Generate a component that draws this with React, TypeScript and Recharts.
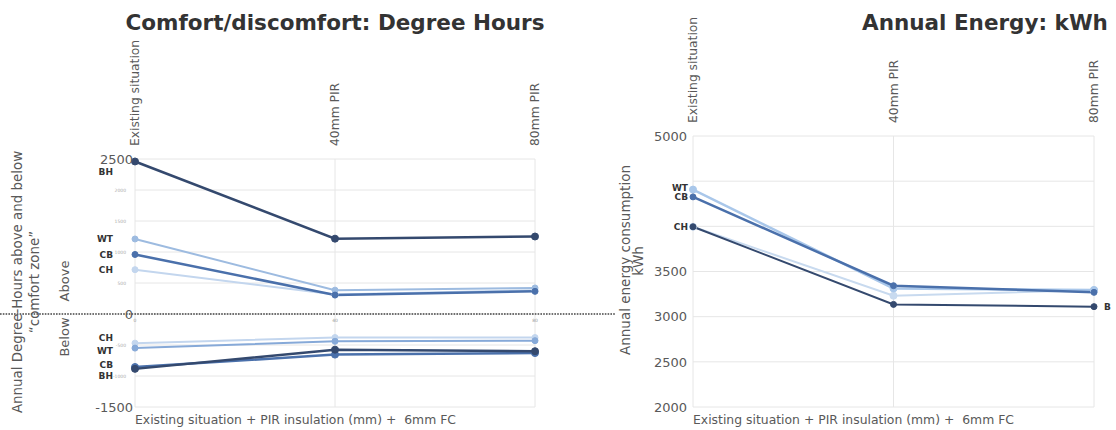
import React from 'react';
import {
  LineChart,
  Line,
  XAxis,
  YAxis,
  CartesianGrid,
  ReferenceLine,
  ReferenceDot,
  LabelList,
} from 'recharts';

// ---------- data ----------
const categories = ['Existing situation', '40mm PIR', '80mm PIR'];
const pirLabels = ['0', '40', '80'];

// Degree hours above comfort zone
const bhAbove = [2460, 1215, 1250];
const wtAbove = [1210, 385, 420];
const cbAbove = [960, 305, 365];
const chAbove = [715, 315, 385];
// Degree hours below comfort zone
const chBelow = [-470, -380, -380];
const wtBelow = [-550, -440, -430];
const cbBelow = [-855, -655, -630];
const bhBelow = [-885, -575, -600];

const comfortTicks = [-1500, -1000, -500, 0, 500, 1000, 1500, 2000, 2500];
const comfortMajorTicks = [2500, 0, -1500];

// Annual energy kWh
const bhEnergy = [3995, 3136, 3111];
const cbEnergy = [4326, 3343, 3269];
const wtEnergy = [4407, 3313, 3295];
const chEnergy = [3995, 3232, 3295];

const energyTicks = [2000, 2500, 3000, 3500, 4000, 4500, 5000];
const energyLabelledTicks = [2000, 2500, 3000, 3500, 5000];

const comfortData = categories.map((c, i) => ({
  category: c,
  bhAbove: bhAbove[i],
  wtAbove: wtAbove[i],
  cbAbove: cbAbove[i],
  chAbove: chAbove[i],
  chBelow: chBelow[i],
  wtBelow: wtBelow[i],
  cbBelow: cbBelow[i],
  bhBelow: bhBelow[i],
}));

const energyData = categories.map((c, i) => ({
  category: c,
  bh: bhEnergy[i],
  cb: cbEnergy[i],
  wt: wtEnergy[i],
  ch: chEnergy[i],
}));

// ---------- styles ----------
const FONT = "'DejaVu Sans', sans-serif";
const C_BH = '#34496e';
const C_CB = '#4a70ab';
const C_WT = '#9dbbe0';
const C_WT_BELOW = '#86a9d8';
const C_CH = '#c3d6ee';
const C_WT_E = '#a9c7ea';
const C_CH_E = '#c8daef';
const GRID = '#e6e6e6';
const TEXT = '#595959';

const CategoryTick = (props: any) => {
  const { x, y, payload } = props;
  return (
    <text
      transform={`translate(${x}, ${y - 5}) rotate(-90)`}
      textAnchor="start"
      dy="0.36em"
      fontSize={12.3}
      fontFamily={FONT}
      fill={TEXT}
    >
      {payload.value}
    </text>
  );
};

const ComfortYTick = (props: any) => {
  const { x, y, payload } = props;
  const major = comfortMajorTicks.includes(payload.value);
  if (major) {
    return (
      <text x={x + 6} y={y} dy="0.36em" textAnchor="end" fontSize={13} fontFamily={FONT} fill={TEXT}>
        {payload.value}
      </text>
    );
  }
  return (
    <text x={x - 1} y={y} dy="0.36em" textAnchor="end" fontSize={4.5} fontFamily={FONT} fill="#aaa">
      {payload.value}
    </text>
  );
};

const EnergyYTick = (props: any) => {
  const { x, y, payload } = props;
  if (!energyLabelledTicks.includes(payload.value)) return <g />;
  return (
    <text x={x + 2} y={y} dy="0.36em" textAnchor="end" fontSize={13} fontFamily={FONT} fill={TEXT}>
      {payload.value}
    </text>
  );
};

const seriesLabel = (text: string, dx: number, dy: number, idx: number, anchor: 'start' | 'end') =>
  (props: any) => {
    const { x, y, index } = props;
    if (index !== idx) return null;
    return (
      <text
        x={x + dx}
        y={y + dy}
        dy="0.36em"
        textAnchor={anchor}
        fontSize={9}
        fontWeight="bold"
        fontFamily={FONT}
        fill="#333"
      >
        {text}
      </text>
    );
  };

const dot = (c: string, r = 3) => ({ r, fill: c, stroke: c, strokeWidth: 1 });

const ZeroLine = (props: any) => (
  <line
    x1={0}
    x2={615}
    y1={props.y1}
    y2={props.y2}
    stroke="#444"
    strokeWidth={1.6}
    strokeDasharray="1.6 1.2"
  />
);

export default function App() {
  return (
    <div
      style={{
        position: 'absolute',
        left: 0,
        top: 0,
        width: 1116,
        height: 430,
        background: '#fff',
        overflow: 'hidden',
        fontFamily: FONT,
      }}
    >
      {/* Left chart: Degree hours */}
      <div style={{ position: 'absolute', left: 0, top: 0 }}>
        <LineChart
          width={620}
          height={430}
          data={comfortData}
          margin={{ top: 39, right: 85, bottom: 23, left: 85 }}
        >
          <CartesianGrid stroke={GRID} strokeWidth={1} />
          <XAxis
            dataKey="category"
            orientation="top"
            height={120}
            axisLine={false}
            tickLine={false}
            interval={0}
            tick={<CategoryTick />}
          />
          <YAxis
            type="number"
            domain={[-1500, 2500]}
            ticks={comfortTicks}
            width={50}
            axisLine={false}
            tickLine={false}
            interval={0}
            tick={<ComfortYTick />}
          />
          <ReferenceLine y={0} shape={<ZeroLine />} />
          {categories.map((c, i) => (
            <ReferenceDot
              key={c}
              x={c}
              y={0}
              r={0}
              fill="none"
              stroke="none"
              label={{ value: pirLabels[i], position: 'bottom', offset: 5, fontSize: 4.5, fill: '#999', fontFamily: FONT }}
            />
          ))}
          <Line dataKey="chAbove" stroke={C_CH} strokeWidth={2} dot={dot(C_CH)} isAnimationActive={false}>
            <LabelList content={seriesLabel('CH', -22, 0, 0, 'end')} />
          </Line>
          <Line dataKey="wtAbove" stroke={C_WT} strokeWidth={2} dot={dot(C_WT)} isAnimationActive={false}>
            <LabelList content={seriesLabel('WT', -22, 0, 0, 'end')} />
          </Line>
          <Line dataKey="cbAbove" stroke={C_CB} strokeWidth={2.5} dot={dot(C_CB)} isAnimationActive={false}>
            <LabelList content={seriesLabel('CB', -22, 0, 0, 'end')} />
          </Line>
          <Line dataKey="bhAbove" stroke={C_BH} strokeWidth={2.5} dot={dot(C_BH, 3.5)} isAnimationActive={false}>
            <LabelList content={seriesLabel('BH', -22, 10, 0, 'end')} />
          </Line>
          <Line dataKey="chBelow" stroke={C_CH} strokeWidth={2} dot={dot(C_CH)} isAnimationActive={false}>
            <LabelList content={seriesLabel('CH', -22, -5, 0, 'end')} />
          </Line>
          <Line dataKey="wtBelow" stroke={C_WT_BELOW} strokeWidth={2} dot={dot(C_WT_BELOW)} isAnimationActive={false}>
            <LabelList content={seriesLabel('WT', -22, 3, 0, 'end')} />
          </Line>
          <Line dataKey="cbBelow" stroke={C_CB} strokeWidth={2.5} dot={dot(C_CB, 3.5)} isAnimationActive={false}>
            <LabelList content={seriesLabel('CB', -22, -2, 0, 'end')} />
          </Line>
          <Line dataKey="bhBelow" stroke={C_BH} strokeWidth={2.5} dot={dot(C_BH, 3.5)} isAnimationActive={false}>
            <LabelList content={seriesLabel('BH', -22, 7, 0, 'end')} />
          </Line>
        </LineChart>
      </div>

      {/* Right chart: Annual energy */}
      <div style={{ position: 'absolute', left: 560, top: 0 }}>
        <LineChart
          width={556}
          height={430}
          data={energyData}
          margin={{ top: 16, right: 22, bottom: 23, left: 83 }}
        >
          <CartesianGrid stroke={GRID} strokeWidth={1} />
          <XAxis
            dataKey="category"
            orientation="top"
            height={120}
            axisLine={false}
            tickLine={false}
            interval={0}
            tick={<CategoryTick />}
          />
          <YAxis
            type="number"
            domain={[2000, 5000]}
            ticks={energyTicks}
            width={50}
            axisLine={false}
            tickLine={false}
            interval={0}
            tick={<EnergyYTick />}
          />
          <Line dataKey="ch" stroke={C_CH_E} strokeWidth={2} dot={dot(C_CH_E, 3.5)} isAnimationActive={false}>
            <LabelList content={seriesLabel('CH', -5, 0, 0, 'end')} />
          </Line>
          <Line dataKey="bh" stroke={C_BH} strokeWidth={2} dot={dot(C_BH)} isAnimationActive={false}>
            <LabelList content={seriesLabel('B', 10, 0, 2, 'start')} />
          </Line>
          <Line dataKey="wt" stroke={C_WT_E} strokeWidth={2.5} dot={dot(C_WT_E, 3.5)} isAnimationActive={false}>
            <LabelList content={seriesLabel('WT', -5, -2, 0, 'end')} />
          </Line>
          <Line dataKey="cb" stroke={C_CB} strokeWidth={2.5} dot={dot(C_CB)} isAnimationActive={false}>
            <LabelList content={seriesLabel('CB', -5, 0, 0, 'end')} />
          </Line>
        </LineChart>
      </div>

      {/* Titles and axis titles */}
      <svg
        width={1116}
        height={430}
        style={{ position: 'absolute', left: 0, top: 0, pointerEvents: 'none' }}
        fontFamily={FONT}
      >
        <text x={335} y={30} textAnchor="middle" fontSize={21.5} fontWeight="bold" fill="#333">
          Comfort/discomfort: Degree Hours
        </text>
        <text x={862} y={30} textAnchor="start" fontSize={21.5} fontWeight="bold" fill="#333">
          Annual Energy: kWh
        </text>

        <text transform="translate(22, 282) rotate(-90)" textAnchor="middle" fontSize={13.4} fill={TEXT}>
          Annual Degree-Hours above and below
        </text>
        <text transform="translate(39, 282) rotate(-90)" textAnchor="middle" fontSize={13.4} fill={TEXT}>
          “comfort zone”
        </text>
        <text transform="translate(69, 281) rotate(-90)" textAnchor="middle" fontSize={13} fill={TEXT}>
          Above
        </text>
        <text transform="translate(69, 337) rotate(-90)" textAnchor="middle" fontSize={13} fill={TEXT}>
          Below
        </text>

        <text transform="translate(630, 260) rotate(-90)" textAnchor="middle" fontSize={13.5} fill={TEXT}>
          Annual energy consumption
        </text>
        <text transform="translate(643, 261) rotate(-90)" textAnchor="middle" fontSize={13.5} fill={TEXT}>
          kWh
        </text>

        <text x={135} y={424} fontSize={12.4} fill={TEXT} style={{ whiteSpace: 'pre' }}>
          {'Existing situation + PIR insulation (mm) +  6mm FC'}
        </text>
        <text x={693} y={424} fontSize={12.4} fill={TEXT} style={{ whiteSpace: 'pre' }}>
          {'Existing situation + PIR insulation (mm) +  6mm FC'}
        </text>
      </svg>
    </div>
  );
}
